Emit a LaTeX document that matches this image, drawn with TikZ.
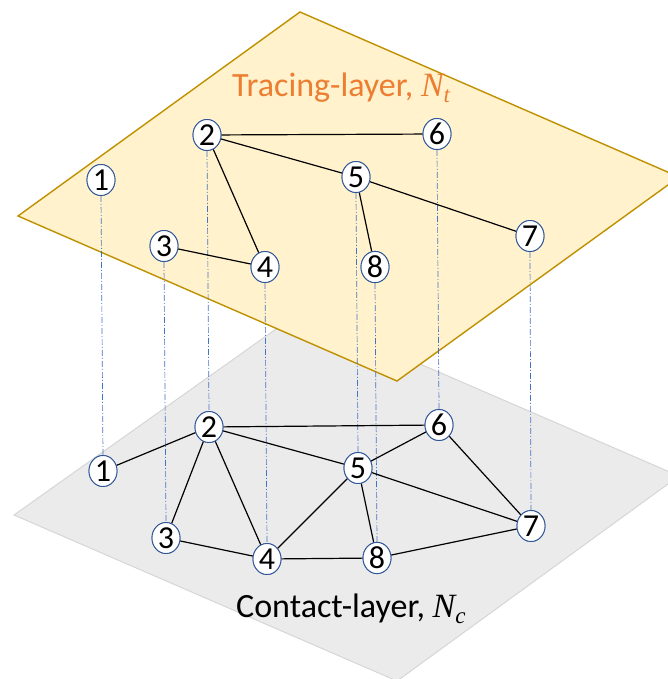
\documentclass[tikz,border=0pt]{standalone}
\usepackage{fontspec}
\setmainfont{Carlito}
\newfontfamily\serifit{Liberation Serif}[ItalicFont={* Italic}]
\usetikzlibrary{shapes.geometric}
\definecolor{yfill}{HTML}{FFF2CC}
\definecolor{yline}{HTML}{BF9000}
\definecolor{gfill}{HTML}{EBEBEB}
\definecolor{gline}{HTML}{D6D6D6}
\definecolor{nblue}{HTML}{2F5597}
\definecolor{dblue}{HTML}{4472C4}
\definecolor{torange}{HTML}{ED7D31}
\newcommand{\layersym}[2]{{\serifit\itshape #1\raisebox{-6pt}{\fontsize{23}{23}\selectfont #2}}}
\tikzset{
  vtx/.style={ellipse, draw=nblue, line width=0.9pt, fill=white, minimum width=28pt, minimum height=31pt, inner sep=0pt, font=\fontsize{32}{32}\selectfont},
  edge/.style={black, line width=1.2pt},
  link/.style={dblue, line width=0.7pt, dash pattern=on 6pt off 2pt on 1pt off 2pt},
  lbl/.style={font=\fontsize{34}{40}\selectfont, anchor=base west, inner sep=0pt},
}
\begin{document}
\begin{tikzpicture}[x=1pt,y=-1pt]
\useasboundingbox (0,0) rectangle (668,679);
\clip (0,0) rectangle (668,679);
% planes
\fill[gfill, draw=gline, line width=1pt] (14,515) -- (300,312) -- (679,476) -- (397,681) -- cycle;
\fill[yfill, draw=yline, line width=1.4pt] (18,216) -- (300,12) -- (679,177) -- (397,381) -- cycle;
% labels
\node[lbl, text=torange] (tl) at (232,97) {Tracing-layer, \layersym{N}{t}};
\node[lbl, text=black] (cl) at (236,617) {Contact-layer, \layersym{N}{c}};
% top layer nodes
\node[vtx] (t1) at (101,180) {1};
\node[vtx] (t2) at (207,135) {2};
\node[vtx] (t3) at (164,246) {3};
\node[vtx] (t4) at (265,267) {4};
\node[vtx] (t5) at (356,177) {5};
\node[vtx] (t6) at (437,134) {6};
\node[vtx] (t7) at (530,236) {7};
\node[vtx] (t8) at (375,267) {8};
% bottom layer nodes
\node[vtx] (b1) at (103,471) {1};
\node[vtx] (b2) at (209,427) {2};
\node[vtx] (b3) at (166,538) {3};
\node[vtx] (b4) at (267,559) {4};
\node[vtx] (b5) at (358,468) {5};
\node[vtx] (b6) at (439,425) {6};
\node[vtx] (b7) at (531,526) {7};
\node[vtx] (b8) at (377,558) {8};
% links
\foreach \i in {1,...,8} {
  \draw[link] (t\i.south) -- (b\i.north);
}
% top edges
\draw[edge] (t2) -- (t6);
\draw[edge] (t2) -- (t5);
\draw[edge] (t2) -- (t4);
\draw[edge] (t3) -- (t4);
\draw[edge] (t5) -- (t8);
\draw[edge] (t5) -- (t7);
% bottom edges
\draw[edge] (b1) -- (b2);
\draw[edge] (b2) -- (b6);
\draw[edge] (b2) -- (b5);
\draw[edge] (b2) -- (b3);
\draw[edge] (b2) -- (b4);
\draw[edge] (b3) -- (b4);
\draw[edge] (b4) -- (b5);
\draw[edge] (b4) -- (b8);
\draw[edge] (b5) -- (b8);
\draw[edge] (b5) -- (b6);
\draw[edge] (b5) -- (b7);
\draw[edge] (b6) -- (b7);
\draw[edge] (b8) -- (b7);
% redraw nodes on top
\foreach \n/\t in {t1/1,t2/2,t3/3,t4/4,t5/5,t6/6,t7/7,t8/8,b1/1,b2/2,b3/3,b4/4,b5/5,b6/6,b7/7,b8/8} {
  \node[vtx] at (\n) {\t};
}
\end{tikzpicture}
\end{document}
